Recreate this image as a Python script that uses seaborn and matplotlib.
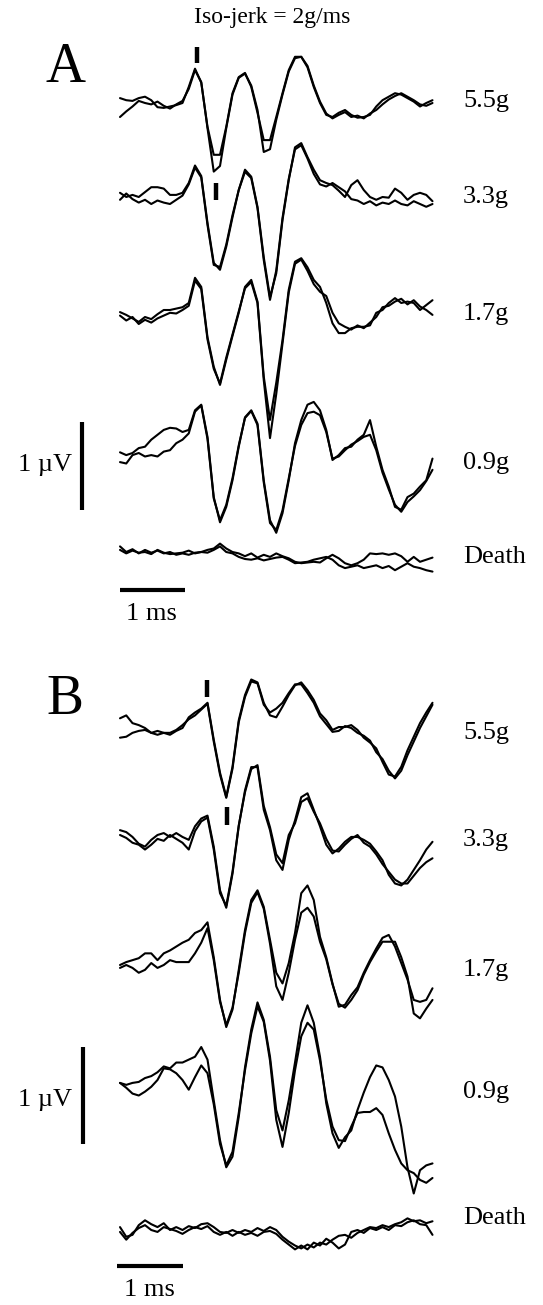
import numpy as np
import matplotlib
matplotlib.use("Agg")
import matplotlib.pyplot as plt
import seaborn as sns

# ---------------- data (µV, sampled every ~0.1 ms) ----------------
A_labels = ["5.5g", "3.3g", "1.7g", "0.9g", "Death"]
B_labels = ["5.5g", "3.3g", "1.7g", "0.9g", "Death"]

A_55_1 = [0.07, 0.04, 0.03, 0.07, 0.09, 0.04, -0.06, -0.07, -0.05, -0.03, 0.0, 0.23, 0.49, 0.29, -0.34, -0.74, -0.74, -0.34, 0.14, 0.37, 0.43, 0.23, -0.14, -0.53, -0.53, -0.2, 0.14, 0.47, 0.66, 0.66, 0.51, 0.23, 0.0, -0.17, -0.2, -0.14, -0.1, -0.17, -0.21, -0.2, -0.17, -0.05, 0.04, 0.09, 0.14, 0.12, 0.07, 0.02, -0.05, 0.0, 0.04]
A_55_2 = [-0.2, -0.12, -0.05, 0.03, 0.0, -0.02, 0.02, -0.04, -0.08, -0.02, 0.03, 0.2, 0.47, 0.3, -0.36, -0.98, -0.9, -0.36, 0.12, 0.36, 0.42, 0.25, -0.1, -0.7, -0.66, -0.24, 0.12, 0.45, 0.64, 0.66, 0.53, 0.25, 0.02, -0.15, -0.22, -0.17, -0.13, -0.2, -0.18, -0.22, -0.15, -0.1, -0.02, 0.05, 0.1, 0.14, 0.09, 0.04, -0.02, -0.04, 0.0]
A_33_1 = [0.06, 0.0, 0.03, 0.0, 0.07, 0.14, 0.14, 0.12, 0.03, 0.03, 0.06, 0.2, 0.45, 0.3, -0.37, -0.94, -1.04, -0.71, -0.29, 0.1, 0.39, 0.29, -0.14, -0.86, -1.43, -1.09, -0.33, 0.24, 0.71, 0.77, 0.57, 0.39, 0.24, 0.2, 0.17, 0.09, 0.0, 0.17, 0.24, 0.1, 0.0, -0.04, 0.0, -0.01, 0.12, 0.06, -0.04, 0.03, 0.06, 0.03, -0.06]
A_33_2 = [-0.04, 0.05, -0.03, -0.08, -0.04, -0.1, -0.05, -0.08, -0.1, -0.04, 0.02, 0.18, 0.42, 0.28, -0.4, -0.97, -1.0, -0.68, -0.26, 0.1, 0.36, 0.27, -0.16, -0.9, -1.47, -1.05, -0.3, 0.26, 0.68, 0.74, 0.55, 0.33, 0.18, 0.15, 0.2, 0.14, 0.08, -0.03, -0.05, -0.1, -0.06, -0.12, -0.08, -0.1, -0.05, -0.1, -0.12, -0.06, -0.1, -0.14, -0.1]
A_17_1 = [0.07, 0.03, -0.02, -0.07, 0.0, -0.03, 0.04, 0.1, 0.1, 0.12, 0.14, 0.2, 0.56, 0.43, -0.29, -0.71, -0.97, -0.61, -0.27, 0.06, 0.43, 0.53, 0.22, -0.85, -1.47, -0.94, -0.33, 0.39, 0.79, 0.84, 0.71, 0.53, 0.43, 0.2, -0.09, -0.23, -0.23, -0.16, -0.14, -0.14, -0.12, 0.06, 0.1, 0.2, 0.27, 0.2, 0.22, 0.2, 0.1, 0.17, 0.24]
A_17_2 = [0.02, -0.05, 0.0, -0.1, -0.04, -0.08, -0.02, 0.02, 0.06, 0.05, 0.1, 0.16, 0.52, 0.4, -0.32, -0.74, -0.95, -0.58, -0.25, 0.08, 0.41, 0.5, 0.2, -0.9, -1.73, -1.1, -0.38, 0.35, 0.76, 0.82, 0.66, 0.47, 0.36, 0.3, 0.06, -0.09, -0.14, -0.18, -0.12, -0.16, -0.08, 0.0, 0.14, 0.16, 0.22, 0.26, 0.18, 0.24, 0.15, 0.1, 0.03]
A_09_1 = [0.11, 0.07, 0.1, 0.17, 0.19, 0.29, 0.36, 0.43, 0.46, 0.45, 0.4, 0.43, 0.71, 0.79, 0.33, -0.53, -0.89, -0.67, -0.29, 0.19, 0.61, 0.71, 0.52, -0.29, -0.86, -1.04, -0.76, -0.29, 0.24, 0.57, 0.79, 0.83, 0.71, 0.43, 0.0, 0.07, 0.17, 0.19, 0.29, 0.36, 0.57, 0.19, -0.14, -0.38, -0.67, -0.71, -0.53, -0.48, -0.38, -0.29, 0.02]
A_09_2 = [-0.03, -0.05, 0.07, 0.1, 0.05, 0.07, 0.05, 0.12, 0.14, 0.24, 0.29, 0.38, 0.69, 0.78, 0.3, -0.55, -0.86, -0.64, -0.26, 0.21, 0.6, 0.7, 0.5, -0.32, -0.9, -1.0, -0.72, -0.26, 0.2, 0.5, 0.67, 0.69, 0.64, 0.4, 0.02, 0.05, 0.14, 0.22, 0.27, 0.33, 0.36, 0.14, -0.18, -0.42, -0.64, -0.74, -0.6, -0.52, -0.43, -0.3, -0.14]
A_D_1 = [0.08, 0.0, 0.04, -0.02, 0.03, -0.01, 0.02, -0.02, 0.0, -0.04, -0.02, -0.04, -0.01, 0.0, 0.03, 0.05, 0.12, 0.05, 0.0, -0.02, -0.06, -0.02, -0.08, -0.04, -0.07, -0.02, -0.06, -0.09, -0.14, -0.16, -0.15, -0.14, -0.15, -0.09, -0.04, -0.09, -0.16, -0.19, -0.16, -0.11, -0.02, -0.03, -0.02, -0.04, -0.02, -0.06, -0.14, -0.07, -0.14, -0.11, -0.08]
A_D_2 = [0.03, -0.02, 0.02, -0.01, 0.0, -0.03, 0.03, -0.01, -0.03, -0.02, -0.01, 0.02, -0.02, 0.0, -0.01, 0.03, 0.08, 0.0, -0.02, -0.07, -0.1, -0.11, -0.09, -0.12, -0.1, -0.08, -0.07, -0.11, -0.16, -0.15, -0.14, -0.11, -0.09, -0.07, -0.11, -0.19, -0.23, -0.21, -0.19, -0.23, -0.21, -0.19, -0.23, -0.2, -0.26, -0.21, -0.16, -0.21, -0.23, -0.26, -0.28]

B_55_1 = [0.10, 0.13, 0.05, 0.03, 0.0, -0.05, -0.03, -0.05, -0.07, -0.03, 0.0, 0.11, 0.16, 0.2, 0.26, -0.12, -0.46, -0.71, -0.4, 0.08, 0.34, 0.5, 0.47, 0.26, 0.13, 0.11, 0.22, 0.34, 0.44, 0.47, 0.39, 0.29, 0.15, 0.08, -0.02, 0.01, 0.01, 0.03, -0.02, -0.1, -0.15, -0.21, -0.35, -0.48, -0.5, -0.4, -0.23, -0.09, 0.05, 0.16, 0.26]
B_55_2 = [-0.1, -0.09, -0.05, -0.03, -0.02, -0.05, -0.07, -0.05, -0.05, -0.02, 0.03, 0.09, 0.13, 0.19, 0.25, -0.14, -0.48, -0.72, -0.42, 0.06, 0.32, 0.48, 0.46, 0.24, 0.16, 0.2, 0.26, 0.36, 0.45, 0.45, 0.36, 0.26, 0.12, 0.04, -0.04, -0.03, 0.02, 0.0, -0.05, -0.08, -0.13, -0.25, -0.32, -0.44, -0.52, -0.44, -0.28, -0.14, 0.0, 0.12, 0.24]
B_33_1 = [0.05, 0.03, -0.02, -0.09, -0.12, -0.05, 0.0, 0.02, -0.02, 0.02, -0.02, -0.05, 0.09, 0.17, 0.2, -0.12, -0.57, -0.75, -0.4, 0.09, 0.46, 0.7, 0.7, 0.26, 0.05, -0.26, -0.36, -0.05, 0.15, 0.39, 0.43, 0.26, 0.09, -0.1, -0.19, -0.14, -0.07, -0.02, -0.02, -0.05, -0.09, -0.17, -0.26, -0.41, -0.5, -0.52, -0.46, -0.36, -0.26, -0.15, -0.07]
B_33_2 = [0.0, -0.03, -0.08, -0.1, -0.15, -0.1, -0.04, -0.06, 0.0, -0.04, -0.08, -0.15, 0.04, 0.14, 0.18, -0.15, -0.6, -0.73, -0.38, 0.1, 0.44, 0.68, 0.72, 0.3, 0.08, -0.2, -0.29, 0.0, 0.12, 0.34, 0.38, 0.24, 0.12, -0.04, -0.16, -0.17, -0.1, -0.04, 0.0, -0.08, -0.12, -0.2, -0.3, -0.38, -0.46, -0.5, -0.5, -0.42, -0.34, -0.28, -0.24]
B_17_1 = [0.0, 0.03, 0.05, 0.07, 0.12, 0.12, 0.05, 0.12, 0.15, 0.19, 0.23, 0.26, 0.33, 0.36, 0.44, 0.08, -0.36, -0.64, -0.46, -0.05, 0.36, 0.67, 0.77, 0.6, 0.26, -0.08, -0.19, 0.02, 0.33, 0.74, 0.82, 0.67, 0.29, 0.08, -0.19, -0.43, -0.41, -0.31, -0.23, -0.08, 0.05, 0.17, 0.28, 0.31, 0.19, 0.02, -0.15, -0.36, -0.38, -0.36, -0.24]
B_17_2 = [-0.03, 0.0, -0.03, -0.08, -0.05, 0.02, -0.03, 0.0, 0.05, 0.03, 0.03, 0.03, 0.12, 0.23, 0.38, 0.05, -0.38, -0.62, -0.44, -0.08, 0.33, 0.64, 0.75, 0.58, 0.22, -0.22, -0.36, -0.08, 0.26, 0.54, 0.59, 0.5, 0.24, 0.06, -0.2, -0.4, -0.44, -0.36, -0.26, -0.1, 0.03, 0.14, 0.24, 0.24, 0.24, 0.08, -0.12, -0.5, -0.55, -0.45, -0.36]
B_09_1 = [-0.03, -0.05, -0.03, -0.02, 0.02, 0.04, 0.08, 0.14, 0.12, 0.18, 0.18, 0.21, 0.24, 0.34, 0.21, -0.21, -0.62, -0.9, -0.79, -0.38, 0.13, 0.52, 0.8, 0.62, 0.24, -0.31, -0.52, -0.21, 0.18, 0.59, 0.77, 0.59, 0.24, -0.24, -0.55, -0.7, -0.59, -0.52, -0.31, -0.13, 0.03, 0.15, 0.13, 0.0, -0.17, -0.48, -0.9, -1.17, -0.93, -0.88, -0.86]
B_09_2 = [-0.03, -0.08, -0.14, -0.16, -0.12, -0.07, 0.0, 0.12, 0.11, 0.07, 0.0, -0.1, 0.03, 0.15, 0.07, -0.25, -0.66, -0.88, -0.74, -0.34, 0.1, 0.48, 0.76, 0.6, 0.2, -0.41, -0.69, -0.34, 0.1, 0.45, 0.59, 0.52, 0.2, -0.2, -0.48, -0.62, -0.63, -0.48, -0.34, -0.33, -0.33, -0.29, -0.36, -0.55, -0.72, -0.86, -0.93, -0.96, -1.03, -1.06, -1.01]
B_D_1 = [0.03, -0.07, -0.05, 0.05, 0.1, 0.06, 0.03, 0.07, 0.0, 0.03, 0.0, 0.04, 0.02, 0.06, 0.07, 0.03, -0.02, -0.03, 0.0, -0.03, 0.0, -0.02, 0.02, -0.01, 0.03, 0.0, -0.07, -0.12, -0.16, -0.19, -0.15, -0.18, -0.13, -0.15, -0.1, -0.06, -0.05, -0.08, -0.03, 0.0, 0.03, 0.02, 0.05, 0.03, 0.06, 0.08, 0.12, 0.09, 0.1, 0.07, 0.09]
B_D_2 = [-0.02, -0.1, -0.03, 0.02, 0.05, 0.0, -0.02, 0.03, 0.01, -0.01, -0.04, 0.0, 0.03, 0.01, 0.04, -0.02, -0.05, -0.02, -0.06, -0.02, -0.05, -0.03, -0.06, -0.02, -0.01, -0.04, -0.1, -0.15, -0.2, -0.16, -0.2, -0.13, -0.16, -0.09, -0.13, -0.19, -0.15, -0.02, 0.0, -0.03, 0.02, 0.0, 0.03, 0.0, 0.05, 0.04, 0.08, 0.1, 0.06, 0.05, -0.05]

A_traces = [(A_55_1, A_55_2), (A_33_1, A_33_2), (A_17_1, A_17_2), (A_09_1, A_09_2), (A_D_1, A_D_2)]
B_traces = [(B_55_1, B_55_2), (B_33_1, B_33_2), (B_17_1, B_17_2), (B_09_1, B_09_2), (B_D_1, B_D_2)]

# latency markers (ms)
A_marker_t = [1.19, 1.49]
B_marker_t = [1.32, 1.62]

# ---------------- layout ----------------
W, H = 543, 1305
X0 = 120                      # pixel of t = 0
A_PX_MS, A_PX_UV = 64.5, 70.0
B_PX_MS, B_PX_UV = 66.0, 97.0
A_BAR_UV = 1.0 * 88 / A_PX_UV  # drawn height of the A calibration bar
A_BASE = [103, 197, 317, 460, 552]
B_BASE = [728, 835, 965, 1080, 1230]
A_LAB_Y = [101, 197, 314, 463, 557]
B_LAB_Y = [733, 840, 970, 1092, 1218]

sns.set_style("white")
plt.rcParams["font.family"] = ["Liberation Serif", "DejaVu Serif"]

fig = plt.figure(figsize=(W / 100, H / 100), dpi=100)
fig.patch.set_facecolor("white")

def make_axis(px_ms, px_uv):
    ax = fig.add_axes([0, 0, 1, 1], facecolor="none")
    ax.set_xlim(-X0 / px_ms, (W - X0) / px_ms)
    ax.set_ylim(-H / px_uv, 0)
    ax.axis("off")
    return ax

axA = make_axis(A_PX_MS, A_PX_UV)
axB = make_axis(B_PX_MS, B_PX_UV)

tA = np.linspace(0, 312.5 / A_PX_MS, 51)
tB = np.linspace(0, 312.5 / B_PX_MS, 51)

def draw_panel(ax, t, traces, bases, px_uv):
    for (l1, l2), b in zip(traces, bases):
        off = -b / px_uv
        for vals in (l1, l2):
            sns.lineplot(x=t, y=np.array(vals) + off, ax=ax, color="black",
                         lw=1.5, estimator=None, sort=False, legend=False)

draw_panel(axA, tA, A_traces, A_BASE, A_PX_UV)
draw_panel(axB, tB, B_traces, B_BASE, B_PX_UV)

# latency ticks
axA.plot([A_marker_t[0]] * 2, [-47 / A_PX_UV, -63 / A_PX_UV], color="black", lw=3.2, solid_capstyle="butt")
axA.plot([A_marker_t[1]] * 2, [-183 / A_PX_UV, -200 / A_PX_UV], color="black", lw=3.2, solid_capstyle="butt")
axB.plot([B_marker_t[0]] * 2, [-680 / B_PX_UV, -697 / B_PX_UV], color="black", lw=3.2, solid_capstyle="butt")
axB.plot([B_marker_t[1]] * 2, [-807 / B_PX_UV, -825 / B_PX_UV], color="black", lw=3.2, solid_capstyle="butt")

# scale bars: 1 µV vertical, 1 ms horizontal
xa = (82 - X0) / A_PX_MS
axA.plot([xa, xa], [-510 / A_PX_UV, -510 / A_PX_UV + A_BAR_UV], color="black", lw=3.0, solid_capstyle="butt")
axA.plot([0, 1.0], [-590 / A_PX_UV] * 2, color="black", lw=3.0, solid_capstyle="butt")
xb = (83 - X0) / B_PX_MS
axB.plot([xb, xb], [-1144 / B_PX_UV, -1144 / B_PX_UV + 1.0], color="black", lw=3.0, solid_capstyle="butt")
xb0 = (117 - X0) / B_PX_MS
axB.plot([xb0, xb0 + 1.0], [-1266 / B_PX_UV] * 2, color="black", lw=3.0, solid_capstyle="butt")

def ftext(x, y, s, size, ha="left"):
    fig.text(x / W, 1 - y / H, s, fontsize=size, ha=ha, va="center", color="black")

ftext(272, 18, "Iso-jerk = 2g/ms", 17, ha="center")
ftext(65, 68, "A", 40, ha="center")
ftext(65, 700, "B", 40, ha="center")
for lab, y in zip(A_labels, A_LAB_Y):
    ftext(463, y, lab, 19)
for lab, y in zip(B_labels, B_LAB_Y):
    ftext(463, y, lab, 19)
ftext(45, 465, "1 µV", 19, ha="center")
ftext(151, 614, "1 ms", 19, ha="center")
ftext(45, 1100, "1 µV", 19, ha="center")
ftext(149, 1290, "1 ms", 19, ha="center")

fig.savefig("out.png", dpi=100, facecolor="white")
